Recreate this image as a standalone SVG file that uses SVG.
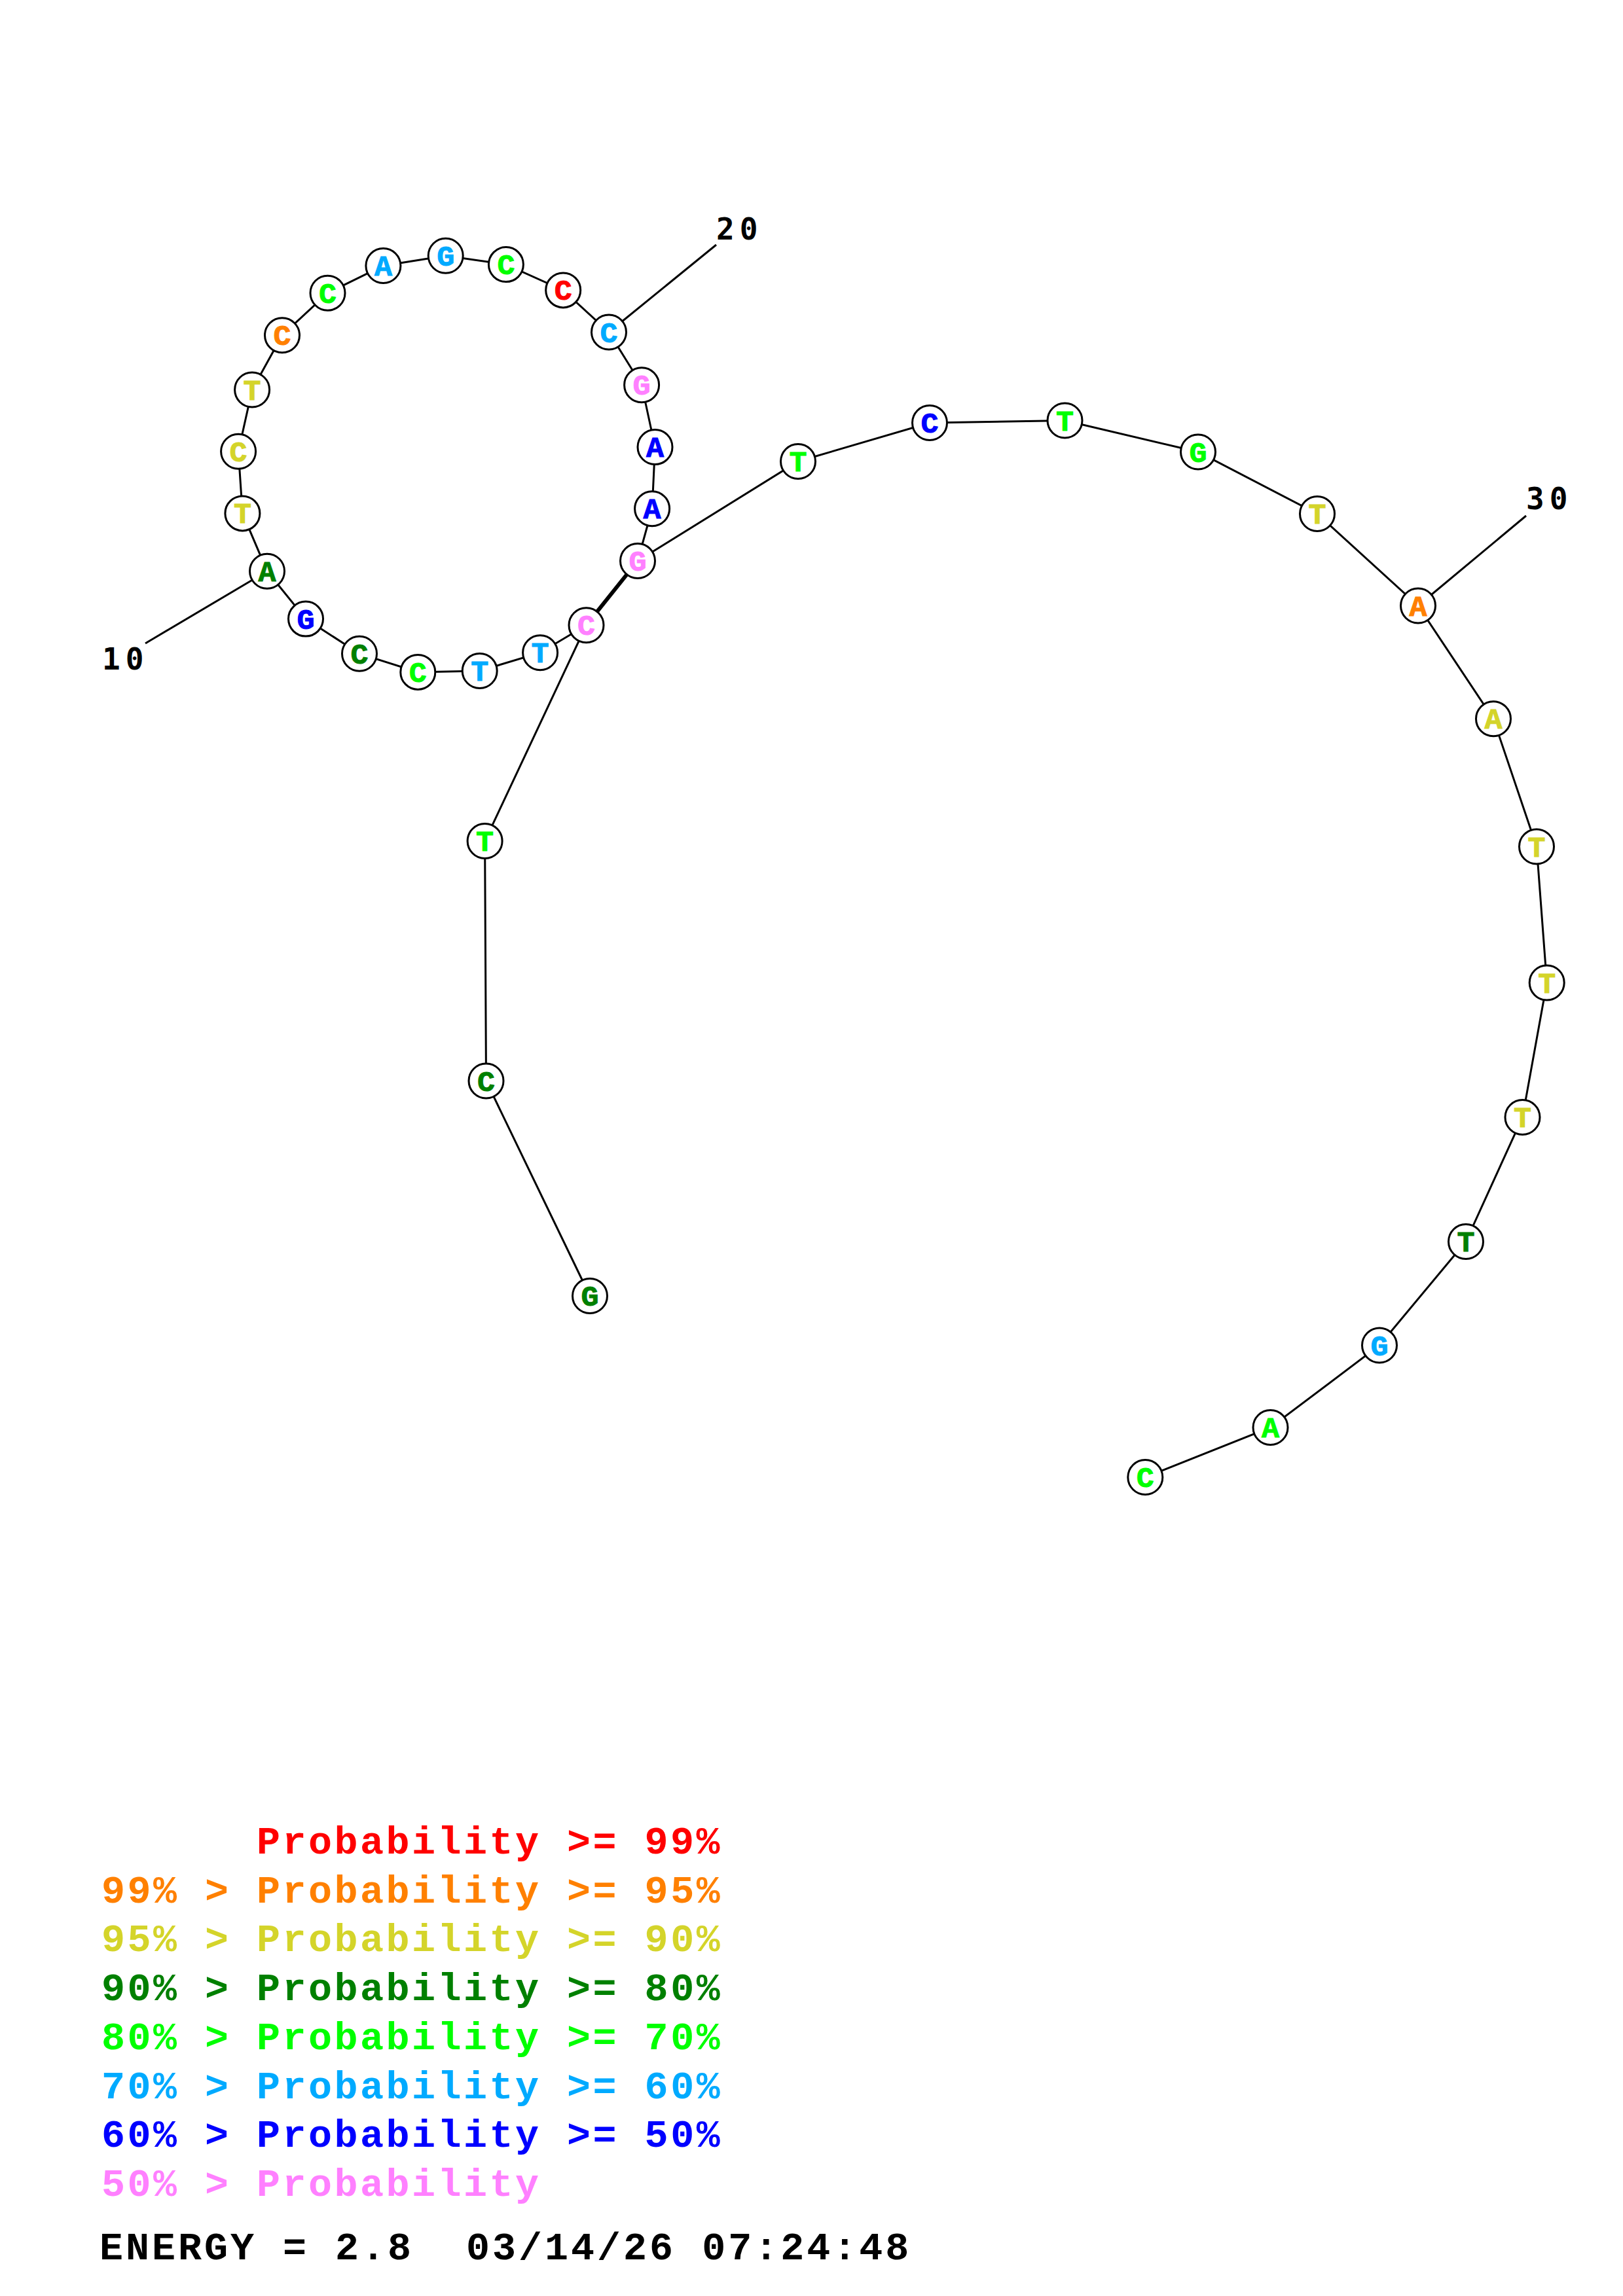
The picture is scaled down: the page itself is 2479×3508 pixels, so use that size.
<svg xmlns="http://www.w3.org/2000/svg" width="2479" height="3508" viewBox="0 0 2479 3508">
<style>
.bg{fill:#ffffff}
.bb{stroke:#000;stroke-width:3;fill:none}
.pair{stroke:#000;stroke-width:6;fill:none}
.nc{fill:#fff;stroke:#000;stroke-width:3}
.nt{font-family:"Liberation Mono","DejaVu Sans Mono",monospace;font-weight:bold;font-size:45px;text-anchor:middle;stroke-width:1px}
.lbl{font-family:"DejaVu Sans Mono","Liberation Mono",monospace;font-weight:bold;font-size:46px;letter-spacing:8px;fill:#000}
.leg{font-family:"Liberation Mono","DejaVu Sans Mono",monospace;font-weight:bold;font-size:60px;letter-spacing:3.5px}
.en{letter-spacing:4px}
.red{fill:#ff0000;stroke:#ff0000}.ora{fill:#ff8000;stroke:#ff8000}.yel{fill:#d4d42a;stroke:#d4d42a}.dgr{fill:#008000;stroke:#008000}.gre{fill:#00ff00;stroke:#00ff00}.lbu{fill:#00aaff;stroke:#00aaff}.blu{fill:#0000ff;stroke:#0000ff}.pin{fill:#ff80ff;stroke:#ff80ff}
.leg.red,.leg.ora,.leg.yel,.leg.dgr,.leg.gre,.leg.lbu,.leg.blu,.leg.pin{stroke:none}
</style>
<rect class="bg" x="0" y="0" width="2479" height="3508"/>
<g id="connectors">
<polyline class="bb" points="901,1980 742.5,1651.5 740.6,1285 895.5,955.2 825.1,997.2 732.7,1025 638.3,1026.9 549,998.7 467,945.6 408,872.7 370.4,784.4 364.1,689.7 385.1,595.5 431,512.2 500.5,447.7 585.4,406 680.7,390.7 772.9,404.1 860.2,443.4 930,507.5 980.1,588.3 1000.5,683 996.1,777.2 974,857 1219,705 1420,646 1626.5,642.5 1830,690.5 2012,785 2166,925.5 2281,1098.3 2347,1293.5 2362.7,1501.5 2325.5,1707 2239,1897 2107,2055.5 1940.5,2181 1749.3,2257"/>
<line class="pair" x1="895.5" y1="955.2" x2="974" y2="857"/>
<line class="bb" x1="222" y1="983" x2="408" y2="872.7"/>
<line class="bb" x1="1094" y1="374" x2="930" y2="507.5"/>
<line class="bb" x1="2331" y1="788" x2="2166" y2="925.5"/>
</g>
<g id="labels">
<text class="lbl" x="156" y="1023">10</text>
<text class="lbl" x="1094" y="366">20</text>
<text class="lbl" x="2331" y="778">30</text>
</g>
<g id="n1"><circle class="nc" cx="901" cy="1980" r="26.5"/><text class="nt dgr" x="901" y="1995">G</text></g>
<g id="n2"><circle class="nc" cx="742.5" cy="1651.5" r="26.5"/><text class="nt dgr" x="742.5" y="1666.5">C</text></g>
<g id="n3"><circle class="nc" cx="740.6" cy="1285" r="26.5"/><text class="nt gre" x="740.6" y="1300">T</text></g>
<g id="n4"><circle class="nc" cx="895.5" cy="955.2" r="26.5"/><text class="nt pin" x="895.5" y="970.2">C</text></g>
<g id="n5"><circle class="nc" cx="825.1" cy="997.2" r="26.5"/><text class="nt lbu" x="825.1" y="1012.2">T</text></g>
<g id="n6"><circle class="nc" cx="732.7" cy="1025" r="26.5"/><text class="nt lbu" x="732.7" y="1040">T</text></g>
<g id="n7"><circle class="nc" cx="638.3" cy="1026.9" r="26.5"/><text class="nt gre" x="638.3" y="1041.9">C</text></g>
<g id="n8"><circle class="nc" cx="549" cy="998.7" r="26.5"/><text class="nt dgr" x="549" y="1013.7">C</text></g>
<g id="n9"><circle class="nc" cx="467" cy="945.6" r="26.5"/><text class="nt blu" x="467" y="960.6">G</text></g>
<g id="n10"><circle class="nc" cx="408" cy="872.7" r="26.5"/><text class="nt dgr" x="408" y="887.7">A</text></g>
<g id="n11"><circle class="nc" cx="370.4" cy="784.4" r="26.5"/><text class="nt yel" x="370.4" y="799.4">T</text></g>
<g id="n12"><circle class="nc" cx="364.1" cy="689.7" r="26.5"/><text class="nt yel" x="364.1" y="704.7">C</text></g>
<g id="n13"><circle class="nc" cx="385.1" cy="595.5" r="26.5"/><text class="nt yel" x="385.1" y="610.5">T</text></g>
<g id="n14"><circle class="nc" cx="431" cy="512.2" r="26.5"/><text class="nt ora" x="431" y="527.2">C</text></g>
<g id="n15"><circle class="nc" cx="500.5" cy="447.7" r="26.5"/><text class="nt gre" x="500.5" y="462.7">C</text></g>
<g id="n16"><circle class="nc" cx="585.4" cy="406" r="26.5"/><text class="nt lbu" x="585.4" y="421">A</text></g>
<g id="n17"><circle class="nc" cx="680.7" cy="390.7" r="26.5"/><text class="nt lbu" x="680.7" y="405.7">G</text></g>
<g id="n18"><circle class="nc" cx="772.9" cy="404.1" r="26.5"/><text class="nt gre" x="772.9" y="419.1">C</text></g>
<g id="n19"><circle class="nc" cx="860.2" cy="443.4" r="26.5"/><text class="nt red" x="860.2" y="458.4">C</text></g>
<g id="n20"><circle class="nc" cx="930" cy="507.5" r="26.5"/><text class="nt lbu" x="930" y="522.5">C</text></g>
<g id="n21"><circle class="nc" cx="980.1" cy="588.3" r="26.5"/><text class="nt pin" x="980.1" y="603.3">G</text></g>
<g id="n22"><circle class="nc" cx="1000.5" cy="683" r="26.5"/><text class="nt blu" x="1000.5" y="698">A</text></g>
<g id="n23"><circle class="nc" cx="996.1" cy="777.2" r="26.5"/><text class="nt blu" x="996.1" y="792.2">A</text></g>
<g id="n24"><circle class="nc" cx="974" cy="857" r="26.5"/><text class="nt pin" x="974" y="872">G</text></g>
<g id="n25"><circle class="nc" cx="1219" cy="705" r="26.5"/><text class="nt gre" x="1219" y="720">T</text></g>
<g id="n26"><circle class="nc" cx="1420" cy="646" r="26.5"/><text class="nt blu" x="1420" y="661">C</text></g>
<g id="n27"><circle class="nc" cx="1626.5" cy="642.5" r="26.5"/><text class="nt gre" x="1626.5" y="657.5">T</text></g>
<g id="n28"><circle class="nc" cx="1830" cy="690.5" r="26.5"/><text class="nt gre" x="1830" y="705.5">G</text></g>
<g id="n29"><circle class="nc" cx="2012" cy="785" r="26.5"/><text class="nt yel" x="2012" y="800">T</text></g>
<g id="n30"><circle class="nc" cx="2166" cy="925.5" r="26.5"/><text class="nt ora" x="2166" y="940.5">A</text></g>
<g id="n31"><circle class="nc" cx="2281" cy="1098.3" r="26.5"/><text class="nt yel" x="2281" y="1113.3">A</text></g>
<g id="n32"><circle class="nc" cx="2347" cy="1293.5" r="26.5"/><text class="nt yel" x="2347" y="1308.5">T</text></g>
<g id="n33"><circle class="nc" cx="2362.7" cy="1501.5" r="26.5"/><text class="nt yel" x="2362.7" y="1516.5">T</text></g>
<g id="n34"><circle class="nc" cx="2325.5" cy="1707" r="26.5"/><text class="nt yel" x="2325.5" y="1722">T</text></g>
<g id="n35"><circle class="nc" cx="2239" cy="1897" r="26.5"/><text class="nt dgr" x="2239" y="1912">T</text></g>
<g id="n36"><circle class="nc" cx="2107" cy="2055.5" r="26.5"/><text class="nt lbu" x="2107" y="2070.5">G</text></g>
<g id="n37"><circle class="nc" cx="1940.5" cy="2181" r="26.5"/><text class="nt gre" x="1940.5" y="2196">A</text></g>
<g id="n38"><circle class="nc" cx="1749.3" cy="2257" r="26.5"/><text class="nt gre" x="1749.3" y="2272">C</text></g>
<g id="legend">
<text class="leg red" x="392" y="2832">Probability &gt;= 99%</text>
<text class="leg ora" x="155" y="2906.7">99% &gt; Probability &gt;= 95%</text>
<text class="leg yel" x="155" y="2981.4">95% &gt; Probability &gt;= 90%</text>
<text class="leg dgr" x="155" y="3056.1">90% &gt; Probability &gt;= 80%</text>
<text class="leg gre" x="155" y="3130.8">80% &gt; Probability &gt;= 70%</text>
<text class="leg lbu" x="155" y="3205.5">70% &gt; Probability &gt;= 60%</text>
<text class="leg blu" x="155" y="3280.2">60% &gt; Probability &gt;= 50%</text>
<text class="leg pin" x="155" y="3354.9">50% &gt; Probability</text>
<text class="leg en" x="152" y="3452" fill="#000" xml:space="preserve">ENERGY = 2.8  03/14/26 07:24:48</text>
</g>
</svg>
